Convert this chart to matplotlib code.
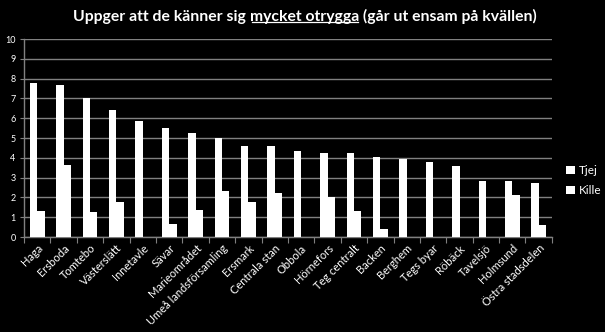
import matplotlib
matplotlib.use("Agg")
import matplotlib.pyplot as plt
import numpy as np

categories = ["Haga", "Ersboda", "Tomtebo", "Västerslätt", "Innetavle", "Sävar",
              "Marieområdet", "Umeå landsförsamling", "Ersmark", "Centrala stan",
              "Obbola", "Hörnefors", "Teg centralt", "Backen", "Berghem", "Tegs byar",
              "Röbäck", "Tavelsjö", "Holmsund", "Östra stadsdelen"]
tjej = [7.76, 7.66, 7.03, 6.42, 5.88, 5.50, 5.24, 4.99, 4.62, 4.59,
        4.35, 4.25, 4.24, 4.05, 3.93, 3.80, 3.58, 2.84, 2.81, 2.74]
kille = [1.31, 3.65, 1.24, 1.78, 0, 0.66, 1.36, 2.30, 1.78, 2.22,
         0, 2.03, 1.31, 0.42, 0, 0, 0, 0, 2.10, 0.62]
series_names = ["Tjej", "Kille"]
title_parts = ["Uppger att de känner sig ", "mycket otrygga", " (går ut ensam på kvällen)"]

FONT = "Lato"
fig = plt.figure(figsize=(6.05, 3.32), dpi=100, facecolor="black")
ax = fig.add_axes([0.0397, 0.286, 0.8725, 0.5965], facecolor="black")

x = np.arange(len(categories))
w = 0.28
b1 = ax.bar(x - w/2, tjej, width=w, color="white", label=series_names[0], zorder=3)
b2 = ax.bar(x + w/2, kille, width=w, color="white", label=series_names[1], zorder=3)

ax.set_xlim(-0.5, len(categories) - 0.5)
ax.set_ylim(0, 10)
ax.set_yticks(range(0, 11))
ax.yaxis.grid(True, color="#808080", linewidth=1, zorder=0)
ax.set_axisbelow(True)
for s in ["top", "right"]:
    ax.spines[s].set_visible(False)
for s in ["left", "bottom"]:
    ax.spines[s].set_color("#808080")
    ax.spines[s].set_linewidth(1)

ax.set_xticks(np.arange(len(categories) + 1) - 0.5, minor=False)
ax.set_xticklabels([])
ax.set_xticks(x, minor=True)
ax.set_xticklabels(categories, minor=True, rotation=45, ha="right", va="top",
                   rotation_mode="anchor", fontsize=8, color="white", family=FONT)
ax.tick_params(axis="x", which="major", length=4, color="#808080", direction="out")
ax.tick_params(axis="x", which="minor", length=0, pad=4)
ax.tick_params(axis="y", length=3, color="#808080", labelsize=6.5, labelcolor="white", pad=3)
for lab in ax.get_yticklabels():
    lab.set_family(FONT)

leg = fig.legend(handles=[b1, b2], labels=series_names, loc="center left",
                 bbox_to_anchor=(0.936, 0.456), frameon=False,
                 borderpad=0, borderaxespad=0,
                 handlelength=0.75, handleheight=0.75, handletextpad=0.3,
                 labelspacing=0.75, prop={"family": FONT, "size": 8.5})
for t in leg.get_texts():
    t.set_color("white")

# Title with underlined middle part
fig.canvas.draw()
renderer = fig.canvas.get_renderer()
ty = 1 - 16.5/332
fs = 11.3
texts = []
for p in title_parts:
    t = fig.text(0, ty, p, color="white", fontsize=fs, fontweight="bold",
                 family=FONT, va="center", ha="left")
    texts.append(t)
widths = [t.get_window_extent(renderer).width for t in texts]
figw = fig.bbox.width
cur = 73
for t, wdt in zip(texts, widths):
    t.set_x(cur / figw)
    cur += wdt
fig.canvas.draw()
bb = texts[1].get_window_extent(renderer)
uy = (bb.y0 + 2) / fig.bbox.height
fig.add_artist(plt.Line2D([bb.x0 / figw + 0.003, bb.x1 / figw - 0.002], [uy, uy],
                          color="white", linewidth=0.9, transform=fig.transFigure))

fig.savefig("out.png", dpi=100, facecolor="black")
